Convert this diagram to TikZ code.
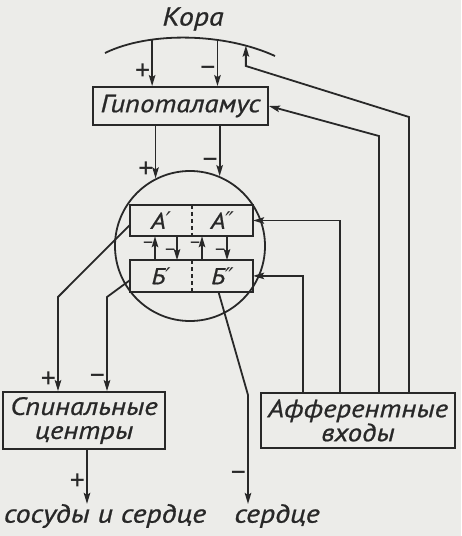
\documentclass[tikz,border=0pt]{standalone}
\usepackage{fontspec}
\setmainfont{PT Sans}[FakeStretch=1.15, FakeBold=0.8]
\newfontfamily\primefont{DejaVu Sans}
\newfontfamily\signfont{PT Sans}
\usepackage{tikz}
\usetikzlibrary{positioning,arrows.meta}
\definecolor{InkGray}{RGB}{40,40,40}
\definecolor{PaperGray}{RGB}{236,236,233}
\newcommand{\pr}{{\primefont\itshape ′}}
\newcommand{\dpr}{{\primefont\itshape ″}}

\begin{document}
\begin{tikzpicture}[
  x=1pt, y=-1pt,
  box/.style={
    draw=InkGray,
    line width=1.8pt,
    text=InkGray,
    font=\fontsize{25}{24}\selectfont\itshape,
    align=center,
    inner sep=2pt,
  },
  cell/.style={
    text=InkGray,
    font=\fontsize{23}{23}\selectfont\itshape,
    minimum width=61pt,
    minimum height=31pt,
    inner sep=0pt,
  },
  arr/.style={-{Stealth[length=11pt,width=6.5pt,inset=2pt]}, line width=1.8pt, InkGray},
  wire/.style={line width=1.8pt, InkGray},
  sign/.style={font=\signfont\fontsize{30}{30}\selectfont, text=InkGray, inner sep=1pt},
  smallsign/.style={font=\signfont\fontsize{20}{20}\selectfont, text=InkGray, inner sep=1pt},
  caption/.style={font=\fontsize{26}{26}\selectfont\itshape, text=InkGray, inner sep=0pt},
]
  \fill[PaperGray] (0,0) rectangle (461,536);
  \useasboundingbox (0,0) rectangle (461,536);

  % cortex
  \node[caption] (cortex) at (193,19) {Кора};
  \draw[wire] (105,53) .. controls (150,31) and (225,33) .. (275,56)
    coordinate[pos=0.3] (k1) coordinate[pos=0.66] (k2) coordinate[pos=0.82] (k3);

  % hypothalamus
  \node[box, minimum width=175pt, minimum height=38pt] (hypo) at (180.5,106) {Гипоталамус};
  \draw[arr] (k1) -- node[sign, pos=0.7, left] {+} (k1 |- hypo.north);
  \draw[arr] (k2) -- node[sign, pos=0.7, left] {−} (k2 |- hypo.north);

  % nucleus with the four cells
  \node[circle, draw=InkGray, line width=1.8pt, minimum size=150pt, inner sep=0pt] (nucleus) at (190,246) {};
  \node[cell] (a1) at (161,220.5) {А\pr};
  \node[cell, right=0pt of a1] (a2) {А\dpr};
  \node[cell, below=24pt of a1] (b1) {Б\pr};
  \node[cell, right=0pt of b1] (b2) {Б\dpr};
  \draw[wire] (a1.north west) rectangle (a2.south east);
  \draw[wire] (b1.north west) rectangle (b2.south east);
  \draw[wire, dash pattern=on 4pt off 3pt] (a1.north east) -- (a1.south east);
  \draw[wire, dash pattern=on 4pt off 3pt] (b1.north east) -- (b1.south east);

  \draw[arr] (hypo.south -| nucleus.117.8) -- node[sign, pos=0.85, left] {+} (nucleus.117.8);
  \draw[arr] (hypo.south -| nucleus.67.3) -- node[sign, pos=0.75, left] {−} (nucleus.67.3);

  \foreach \x in {155,202}
    \draw[arr] (\x,0 |- b1.north) -- node[smallsign, pos=0.62, left] {−} (\x,0 |- a1.south);
  \foreach \x in {177,227}
    \draw[arr] (\x,0 |- a1.south) -- node[smallsign, pos=0.7, left] {−} (\x,0 |- b1.north);

  % spinal centres and afferent inputs
  \node[box, minimum width=162pt, minimum height=57pt] (spinal) at (84,420.5) {Спинальные\\центры};
  \node[box, minimum width=194pt, minimum height=55pt] (aff) at (358,420.5) {Афферентные\\входы};

  \draw[arr] ([yshift=-4pt]a1.west) -- (58,297) -- node[sign, pos=0.88, left] {+} (58,0 |- spinal.north);
  \draw[arr] ([yshift=-4pt]b1.west) -- (107,297) -- node[sign, pos=0.88, left] {−} (107,0 |- spinal.north);

  \draw[arr] (aff.north -| 409,0) -- (409,117) -- (k3 |- 0,66) -- (k3);
  \draw[arr] (aff.north -| 379,0) -- (379,136) -- (hypo.east);
  \draw[arr] (aff.north -| 340,0) |- (a2.east);
  \draw[arr] (aff.north -| 303,0) |- (b2.east);

  % outputs
  \node[caption] (vessels) at (105,516) {сосуды и сердце};
  \node[caption] (heart) at (277,516) {сердце};
  \draw[arr] (spinal.south -| 87,0) -- node[sign, pos=0.6, left] {+} (vessels.north -| 87,0);
  \draw[arr] ([xshift=-4pt]b2.south) -- (248,395) -- node[sign, pos=0.75, left] {−} (heart.north -| 248,0);
\end{tikzpicture}
\end{document}
